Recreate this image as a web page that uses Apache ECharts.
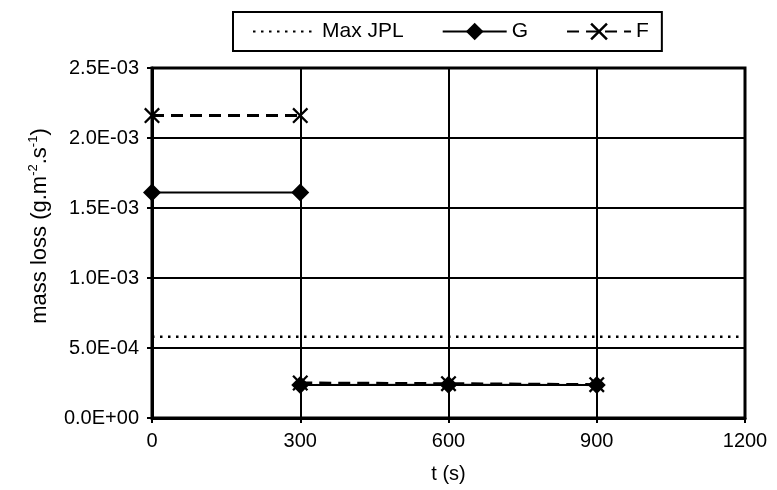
<!DOCTYPE html>
<html>
<head>
<meta charset="utf-8">
<script src="https://cdn.jsdelivr.net/npm/echarts@6/dist/echarts.min.js"></script>
<style>
  html, body { margin: 0; padding: 0; background: #fff; }
  #chart { width: 777px; height: 490px; }
</style>
</head>
<body>
<div id="chart"></div>
<script>
// time (s) of each point, '-' breaks the line
const timeG = [0, 300, 300, 300, 600, 900];
const massG = [1.61e-3, 1.61e-3, '-', 2.36e-4, 2.38e-4, 2.36e-4];
const timeF = [0, 300, 300, 300, 600, 900];
const massF = [2.16e-3, 2.16e-3, '-', 2.5e-4, 2.45e-4, 2.38e-4];
const timeJPL = [0, 1200];
const maxJPL = [5.8e-4, 5.8e-4];
const xTicks = [0, 300, 600, 900, 1200];

const FONT = 'Liberation Sans, Arial, sans-serif';
const pair = (xs, ys) => xs.map((x, i) => [x, ys[i]]);

const sci = (v) => {
  if (v === 0) return '0.0E+00';
  const exp = Math.floor(Math.log10(v) + 1e-9);
  const mant = v / Math.pow(10, exp);
  const sign = exp < 0 ? '-' : '+';
  return mant.toFixed(1) + 'E' + sign + String(Math.abs(exp)).padStart(2, '0');
};

const crossPath = 'path://M0,1L1,0L5,4L9,0L10,1L6,5L10,9L9,10L5,6L1,10L0,9L4,5Z';

const chart = echarts.init(document.getElementById('chart'));

chart.setOption({
  animation: false,
  backgroundColor: '#fff',
  textStyle: { fontFamily: FONT, color: '#000' },
  grid: {
    left: 152, right: 32, top: 68, bottom: 72,
    show: true, borderColor: '#000', borderWidth: 3,
  },
  legend: {
    left: 233, top: 12,
    borderColor: '#000', borderWidth: 2,
    padding: [9, 13, 9, 19],
    itemWidth: 64, itemHeight: 22, itemGap: 38,
    textStyle: { fontFamily: FONT, fontSize: 21, color: '#000' },
    data: [
      { name: 'Max JPL', itemStyle: { color: 'rgba(0,0,0,0)', borderWidth: 0 } },
      { name: 'G' },
      { name: 'F' },
    ],
  },
  xAxis: {
    type: 'value',
    min: xTicks[0], max: xTicks[xTicks.length - 1], interval: 300,
    name: 't (s)', nameLocation: 'middle', nameGap: 46,
    nameTextStyle: { fontFamily: FONT, fontSize: 20, color: '#000' },
    axisLine: { show: true, lineStyle: { color: '#000', width: 3 } },
    axisTick: { show: true, inside: false, length: 5, lineStyle: { color: '#000', width: 2 } },
    axisLabel: { fontFamily: FONT, fontSize: 20, color: '#000', margin: 13, formatter: (v) => String(v) },
    splitLine: { show: true, lineStyle: { color: '#000', width: 2 } },
  },
  yAxis: {
    type: 'value',
    min: 0, max: 2.5e-3, interval: 5e-4,
    axisLine: { show: true, lineStyle: { color: '#000', width: 3 } },
    axisTick: { show: true, inside: false, length: 5, lineStyle: { color: '#000', width: 2 } },
    axisLabel: { fontFamily: FONT, fontSize: 20, color: '#000', margin: 13, formatter: sci },
    splitLine: { show: true, lineStyle: { color: '#000', width: 2 } },
  },
  graphic: [{
    type: 'text',
    x: 40, y: 226,
    rotation: Math.PI / 2,
    style: {
      text: 'mass loss (g.m{sup|-2}.s{sup|-1})',
      fontFamily: FONT, fontSize: 22, fill: '#000',
      align: 'center', verticalAlign: 'middle', lineHeight: 26,
      rich: { sup: { fontFamily: FONT, fontSize: 13, verticalAlign: 'top', lineHeight: 26 } },
    },
  }],
  series: [
    {
      name: 'Max JPL', type: 'line',
      data: pair(timeJPL, maxJPL),
      symbol: 'none',
      lineStyle: { color: '#000', width: 2.5, type: [2.5, 5.5] },
      itemStyle: { color: '#000' },
      z: 3,
    },
    {
      name: 'G', type: 'line',
      data: pair(timeG, massG),
      symbol: 'diamond', symbolSize: [18, 18],
      lineStyle: { color: '#000', width: 2 },
      itemStyle: { color: '#000' },
      connectNulls: false,
      z: 4,
    },
    {
      name: 'F', type: 'line',
      data: pair(timeF, massF),
      symbol: crossPath, symbolSize: [16, 16],
      lineStyle: { color: '#000', width: 3, type: [12, 7] },
      itemStyle: { color: '#000' },
      connectNulls: false,
      z: 5,
    },
  ],
});

window.addEventListener('resize', () => chart.resize());
</script>
</body>
</html>
